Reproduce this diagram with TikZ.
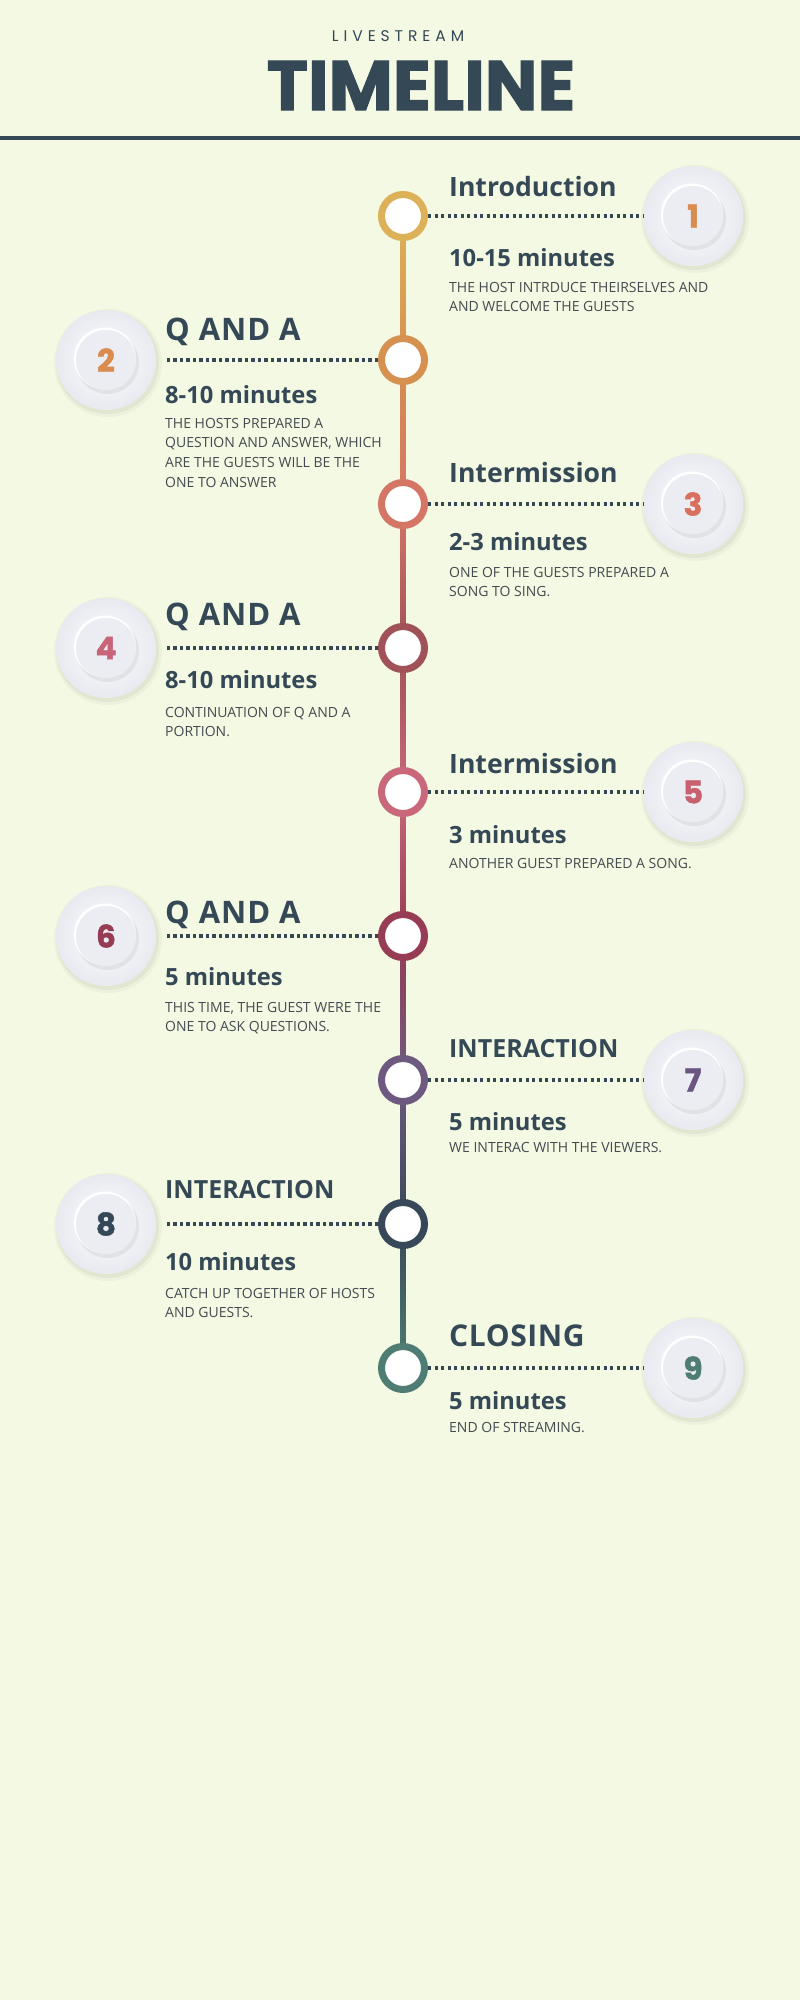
\documentclass[tikz,border=0pt]{standalone}
\usepackage{fontspec}
\setmainfont{Open Sans}
\newfontfamily\popfont{Poppins}
\usetikzlibrary{calc}
\definecolor{bgc}{HTML}{F3F9E3}
\definecolor{ink}{HTML}{344856}
\definecolor{bodyc}{HTML}{454B50}
\definecolor{cA}{HTML}{DDB158}
\definecolor{cB}{HTML}{D69150}
\definecolor{cC}{HTML}{D47565}
\definecolor{cD}{HTML}{A05258}
\definecolor{cE}{HTML}{C8687A}
\definecolor{cF}{HTML}{963C55}
\definecolor{cG}{HTML}{6E5A80}
\definecolor{cH}{HTML}{374858}
\definecolor{cI}{HTML}{4F7D73}
\definecolor{nA}{HTML}{DA8C4E}
\definecolor{nB}{HTML}{DA8C4E}
\definecolor{nC}{HTML}{D9705E}
\definecolor{nD}{HTML}{C86478}
\definecolor{nE}{HTML}{C8606F}
\definecolor{nF}{HTML}{963C55}
\definecolor{nG}{HTML}{6A5580}
\definecolor{nH}{HTML}{344858}
\definecolor{nI}{HTML}{4F7D73}
\definecolor{discout}{HTML}{E8EAF0}
\definecolor{discin}{HTML}{FDFDFE}
\definecolor{innerdisc}{HTML}{ECEDF2}
\tikzset{
  ring/.style={circle, minimum size=43pt, inner sep=0pt, line width=7pt, fill=white, draw=#1},
  disc/.style={circle, minimum size=100pt, inner sep=0pt, inner color=discin, outer color=discout},
  numdisc/.style={circle, minimum size=60pt, inner sep=0pt, fill=innerdisc, text=#1,
     font=\popfont\bfseries\fontsize{31}{31}\selectfont\addfontfeature{FakeBold=1.6}},
  ttl/.style={anchor=base west, inner sep=0pt, text=ink, font=\bfseries\fontsize{26.6}{27}\selectfont},
  ttlcaps/.style={anchor=base west, inner sep=0pt, text=ink, font=\bfseries\fontsize{31}{31}\selectfont\addfontfeature{LetterSpace=3}},
  ttlsmall/.style={anchor=base west, inner sep=0pt, text=ink, font=\bfseries\fontsize{25}{25}\selectfont},
  mins/.style={anchor=base west, inner sep=0pt, text=ink, font=\bfseries\fontsize{23.7}{23.7}\selectfont},
  bodytxt/.style={anchor=base west, inner sep=0pt, text=bodyc, font=\fontsize{14}{19.7}\selectfont},
  dotline/.style={draw=ink, line width=3.3pt, dash pattern=on 3.3pt off 3.2pt},
}
\newcommand{\btext}[1]{\parbox[t]{300pt}{\raggedright #1}}
\newcommand{\discshadow}[1]{%
  \fill[black, opacity=0.03] ($(#1)+(2,3)$) circle (54);
  \fill[black, opacity=0.045] ($(#1)+(1.5,2.5)$) circle (51.5);
}
\newcommand{\innershadow}[1]{%
  \fill[black, opacity=0.06] ($(#1)+(1.5,2.5)$) circle (31.5);
  \fill[white] ($(#1)+(-1,-1.5)$) circle (31);
}
\begin{document}
\begin{tikzpicture}[x=1pt,y=-1pt]
\fill[bgc] (0,0) rectangle (800,2000);
\useasboundingbox (0,0) rectangle (800,2000);
% header
\node[inner sep=0pt, anchor=base, text=ink, font=\popfont\fontsize{15.5}{15.5}\selectfont\addfontfeature{LetterSpace=32}] (live) at (398,41) {LIVESTREAM};
\node[inner sep=0pt, anchor=base, text=ink, font=\popfont\bfseries\fontsize{70}{70}\selectfont\addfontfeature{FakeBold=1.5}] (tl) at (421,110) {TIMELINE};
\coordinate (hl) at (0,138);
\coordinate (hr) at (800,138);
\draw[ink, line width=4pt] (hl) -- (hr);
% timeline points
\coordinate (p1) at (403,216);
\coordinate (p2) at (403,360);
\coordinate (p3) at (403,504);
\coordinate (p4) at (403,648);
\coordinate (p5) at (403,792);
\coordinate (p6) at (403,936);
\coordinate (p7) at (403,1080);
\coordinate (p8) at (403,1224);
\coordinate (p9) at (403,1368);
% vertical gradient segments
\shade[top color=cA, bottom color=cB] ($(p1)+(-2.5,0)$) rectangle ($(p2)+(2.5,0)$);
\shade[top color=cB, bottom color=cC] ($(p2)+(-2.5,0)$) rectangle ($(p3)+(2.5,0)$);
\shade[top color=cC, bottom color=cD] ($(p3)+(-2.5,0)$) rectangle ($(p4)+(2.5,0)$);
\shade[top color=cD, bottom color=cE] ($(p4)+(-2.5,0)$) rectangle ($(p5)+(2.5,0)$);
\shade[top color=cE, bottom color=cF] ($(p5)+(-2.5,0)$) rectangle ($(p6)+(2.5,0)$);
\shade[top color=cF, bottom color=cG] ($(p6)+(-2.5,0)$) rectangle ($(p7)+(2.5,0)$);
\shade[top color=cG, bottom color=cH] ($(p7)+(-2.5,0)$) rectangle ($(p8)+(2.5,0)$);
\shade[top color=cH, bottom color=cI] ($(p8)+(-2.5,0)$) rectangle ($(p9)+(2.5,0)$);
% circles
\node[ring=cA] (c1) at (p1) {};
\node[ring=cB] (c2) at (p2) {};
\node[ring=cC] (c3) at (p3) {};
\node[ring=cD] (c4) at (p4) {};
\node[ring=cE] (c5) at (p5) {};
\node[ring=cF] (c6) at (p6) {};
\node[ring=cG] (c7) at (p7) {};
\node[ring=cH] (c8) at (p8) {};
\node[ring=cI] (c9) at (p9) {};
% disc centres
\coordinate (q1) at (693,216);
\coordinate (q2) at (106,360);
\coordinate (q3) at (693,504);
\coordinate (q4) at (106,648);
\coordinate (q5) at (693,792);
\coordinate (q6) at (106,936);
\coordinate (q7) at (693,1080);
\coordinate (q8) at (106,1224);
\coordinate (q9) at (693,1368);
\foreach \q in {q1,q2,q3,q4,q5,q6,q7,q8,q9} {\discshadow{\q}}
% discs
\node[disc] (d1) at (q1) {};
\node[disc] (d2) at (q2) {};
\node[disc] (d3) at (q3) {};
\node[disc] (d4) at (q4) {};
\node[disc] (d5) at (q5) {};
\node[disc] (d6) at (q6) {};
\node[disc] (d7) at (q7) {};
\node[disc] (d8) at (q8) {};
\node[disc] (d9) at (q9) {};
\foreach \q in {q1,q2,q3,q4,q5,q6,q7,q8,q9} {\innershadow{\q}}
\node[numdisc=nA] (n1) at (q1) {1};
\node[numdisc=nB] (n2) at (q2) {2};
\node[numdisc=nC] (n3) at (q3) {3};
\node[numdisc=nD] (n4) at (q4) {4};
\node[numdisc=nE] (n5) at (q5) {5};
\node[numdisc=nF] (n6) at (q6) {6};
\node[numdisc=nG] (n7) at (q7) {7};
\node[numdisc=nH] (n8) at (q8) {8};
\node[numdisc=nI] (n9) at (q9) {9};
% dotted connectors
\draw[dotline] (c1.east) -- (d1.west);
\draw[dotline] (c2.west) -- ($(d2.east)+(10,0)$);
\draw[dotline] (c3.east) -- (d3.west);
\draw[dotline] (c4.west) -- ($(d4.east)+(10,0)$);
\draw[dotline] (c5.east) -- (d5.west);
\draw[dotline] (c6.west) -- ($(d6.east)+(10,0)$);
\draw[dotline] (c7.east) -- (d7.west);
\draw[dotline] (c8.west) -- ($(d8.east)+(10,0)$);
\draw[dotline] (c9.east) -- (d9.west);
% texts
\node[ttl] (t1) at (449,196) {Introduction};
\node[mins] (m1) at (449,266) {10-15 minutes};
\node[bodytxt] (b1) at (449,292) {\btext{THE HOST INTRDUCE THEIRSELVES AND\\AND WELCOME THE GUESTS}};
\node[ttlcaps] (t2) at (165,340) {Q AND A};
\node[mins] (m2) at (165,403) {8-10 minutes};
\node[bodytxt] (b2) at (165,428) {\btext{THE HOSTS PREPARED A\\QUESTION AND ANSWER, WHICH\\ARE THE GUESTS WILL BE THE\\ONE TO ANSWER}};
\node[ttl] (t3) at (449,482) {Intermission};
\node[mins] (m3) at (449,550) {2-3 minutes};
\node[bodytxt] (b3) at (449,577) {\btext{ONE OF THE GUESTS PREPARED A\\SONG TO SING.}};
\node[ttlcaps] (t4) at (165,625) {Q AND A};
\node[mins] (m4) at (165,688) {8-10 minutes};
\node[bodytxt] (b4) at (165,717) {\btext{CONTINUATION OF Q AND A\\PORTION.}};
\node[ttl] (t5) at (449,773) {Intermission};
\node[mins] (m5) at (449,843) {3 minutes};
\node[bodytxt] (b5) at (449,868) {\btext{ANOTHER GUEST PREPARED A SONG.}};
\node[ttlcaps] (t6) at (165,923) {Q AND A};
\node[mins] (m6) at (165,985) {5 minutes};
\node[bodytxt] (b6) at (165,1012) {\btext{THIS TIME, THE GUEST WERE THE\\ONE TO ASK QUESTIONS.}};
\node[ttlsmall] (t7) at (449,1057) {INTERACTION};
\node[mins] (m7) at (449,1130) {5 minutes};
\node[bodytxt] (b7) at (449,1152) {\btext{WE INTERAC WITH THE VIEWERS.}};
\node[ttlsmall] (t8) at (165,1198) {INTERACTION};
\node[mins] (m8) at (165,1270) {10 minutes};
\node[bodytxt] (b8) at (165,1298) {\btext{CATCH UP TOGETHER OF HOSTS\\AND GUESTS.}};
\node[ttlcaps, font=\bfseries\fontsize{30}{30}\selectfont\addfontfeature{LetterSpace=2}] (t9) at (449,1346) {CLOSING};
\node[mins] (m9) at (449,1409) {5 minutes};
\node[bodytxt] (b9) at (449,1432) {\btext{END OF STREAMING.}};
\end{tikzpicture}
\end{document}
